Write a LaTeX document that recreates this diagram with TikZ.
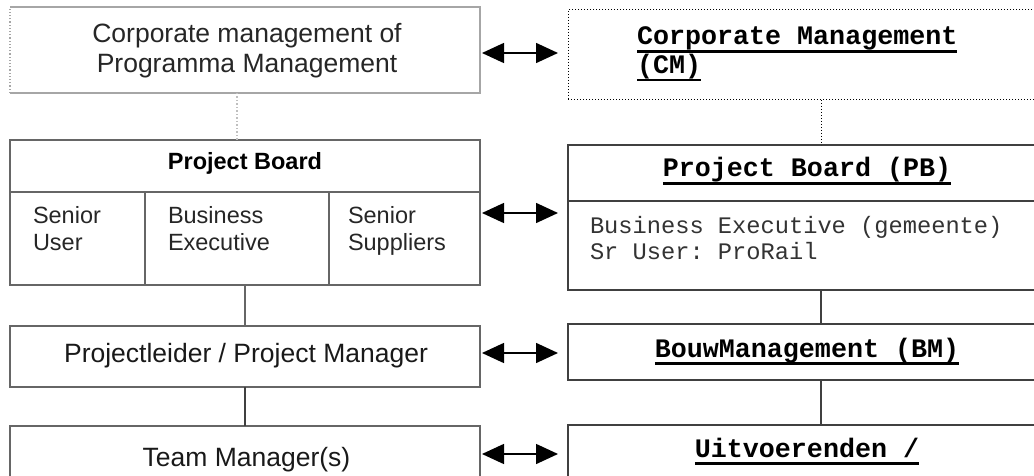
\documentclass[tikz,border=0pt]{standalone}
\usepackage{fontspec}
\setsansfont{Liberation Sans}
\setmonofont{Liberation Mono}
\usetikzlibrary{arrows.meta}

\newcommand{\labsf}{\sffamily\fontsize{26.5}{30}\selectfont}
\newcommand{\cellsf}{\sffamily\fontsize{23.5}{27}\selectfont}
\newcommand{\labtt}{\ttfamily\bfseries\fontsize{26.7}{28.5}\selectfont}
\newcommand{\bodytt}{\ttfamily\fontsize{23.7}{26}\selectfont}
\newcommand{\ulbox}[1]{\setbox0\hbox{#1}\rlap{\rule[-8pt]{\wd0}{2.6pt}}\box0}

\begin{document}
\begin{tikzpicture}[x=1pt, y=-1pt,
  every node/.style={outer sep=0pt, inner sep=0pt},
  lbox/.style={draw=black!60, line width=1.8pt, minimum width=470},
  rbox/.style={draw=black!75, line width=1.5pt, minimum width=478},
  biarrow/.style={{Triangle[length=22pt,width=20pt]}-{Triangle[length=22pt,width=20pt]},
    line width=1.5pt, shorten <=2pt, shorten >=10pt}]
 \useasboundingbox (0,0) rectangle (1034,476);
 \clip (0,0) rectangle (1034,476);

 % left column
 \node[minimum width=470, minimum height=86] (cmpm) at (245,50) {};
 \draw[black!35, line width=1.2pt] (cmpm.north west) -- (cmpm.north east) -- (cmpm.south east) -- (cmpm.south west);
 \draw[black!35, line width=1.2pt, dotted] (cmpm.south west) -- (cmpm.north west);
 \node[lbox, minimum height=52] (pbhead) at (245,166) {};
 \node[lbox, minimum width=135, minimum height=93] (su) at (77.5,238.5) {};
 \node[lbox, minimum width=184, minimum height=93] (be) at (237,238.5) {};
 \node[lbox, minimum width=151, minimum height=93] (ss) at (404.5,238.5) {};
 \node[lbox, minimum height=61] (pm) at (245,356.5) {};
 \node[lbox, minimum height=67] (tm) at (245,459.5) {};

 \node[align=center, text=black!85, font=\labsf] (cmpmtext) at (247,51) {Corporate management of\\Programma Management};
 \node[anchor=base, font=\cellsf\bfseries] (pbheadtext) at (245,170) {Project Board};
 \node[anchor=north west, align=left, font=\cellsf, text=black!85] (sutext) at (33,206) {Senior\\User};
 \node[anchor=north west, align=left, font=\cellsf, text=black!85] (betext) at (168,206) {Business\\Executive};
 \node[anchor=north west, align=left, font=\cellsf, text=black!85] (sstext) at (348,206) {Senior\\Suppliers};
 \node[anchor=base, font=\labsf, text=black!90] (pmtext) at (246,362) {Projectleider / Project Manager};
 \node[anchor=base, font=\labsf, text=black!90] (tmtext) at (246.5,466) {Team Manager(s)};

 \draw[black!25, line width=1.5pt, dotted] ([xshift=-8pt]cmpm.south) -- ([xshift=-8pt]pbhead.north);
 \draw[black!60, line width=1.8pt] (pm.north |- be.south) -- (pm.north);
 \draw[black!75, line width=1.5pt] (pm.south) -- (tm.north);

 % right column
 \node[draw, dotted, line width=1pt, minimum width=478, minimum height=90] (cm) at (807,55) {};
 \node[rbox, minimum height=56] (pbrh) at (807,173) {};
 \node[rbox, minimum height=89] (pbrb) at (807,245.5) {};
 \node[rbox, minimum height=56] (bm) at (807,352) {};
 \node[rbox, minimum height=80] (uit) at (807,465) {};

 \node[anchor=north west, align=left, font=\labtt] (cmtext) at (637,27) {\ulbox{Corporate Management}\\\ulbox{(CM)}};
 \node[anchor=base, font=\labtt] (pbrhtext) at (807,177) {\ulbox{Project Board (PB)}};
 \node[anchor=north west, align=left, font=\bodytt, text=black!80] (pbrbtext) at (590,216) {Business Executive (gemeente)\\Sr User: ProRail};
 \node[anchor=base, font=\labtt] (bmtext) at (807,357) {\ulbox{BouwManagement (BM)}};
 \node[anchor=base, font=\labtt] (uittext) at (807,457) {\ulbox{Uitvoerenden /}};

 \draw[line width=1pt, dotted] ([xshift=14pt]cm.south) -- ([xshift=14pt]pbrh.north);
 \draw[black!75, line width=1.5pt] ([xshift=14pt]pbrb.south) -- ([xshift=14pt]bm.north);
 \draw[black!75, line width=1.5pt] ([xshift=14pt]bm.south) -- ([xshift=14pt]uit.north);

 % links between both columns
 \coordinate (a1) at ([yshift=-3pt]cmpm.east);
 \coordinate (a2) at ([yshift=-21pt]ss.north east);
 \coordinate (a3) at ([yshift=3.5pt]pm.east);
 \coordinate (a4) at ([yshift=-28pt]tm.north east);
 \draw[biarrow] (a1) -- (a1 -| cm.west);
 \draw[biarrow] (a2) -- (a2 -| pbrb.west);
 \draw[biarrow] (a3) -- (a3 -| bm.west);
 \draw[biarrow] (a4) -- (a4 -| uit.west);
\end{tikzpicture}
\end{document}
